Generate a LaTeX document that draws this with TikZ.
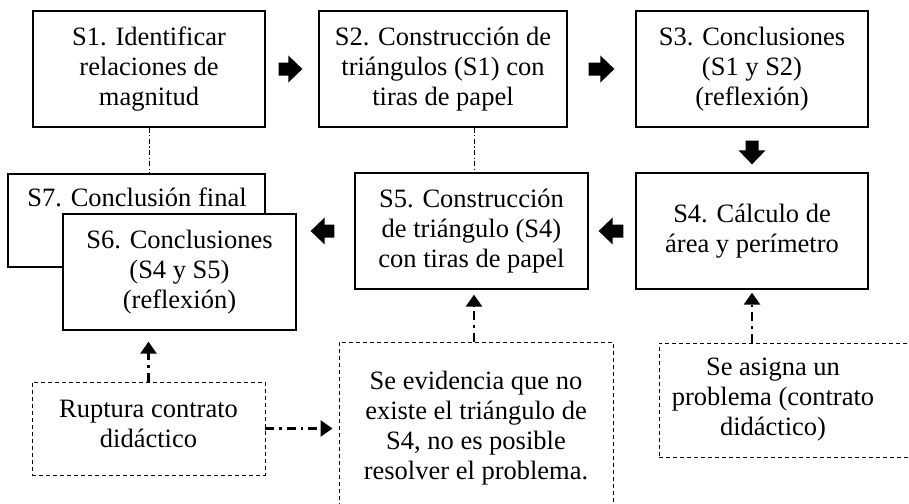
\documentclass[tikz,border=0pt]{standalone}
\usepackage{fontspec}
\setmainfont{Liberation Serif}
\usetikzlibrary{arrows.meta,calc}
\newcommand\blockarr[4]{%
  \coordinate (ba-a) at ($(#1)!#3!(#2)$);
  \coordinate (ba-b) at ($(#2)!#4!(#1)$);
  \coordinate (ba-h) at ($(ba-b)!14pt!(ba-a)$);
  \fill[black] ($(ba-a)!6.5pt!90:(ba-b)$) -- ($(ba-h)!6.5pt!90:(ba-b)$) -- ($(ba-h)!13.5pt!90:(ba-b)$) -- (ba-b)
    -- ($(ba-h)!13.5pt!-90:(ba-b)$) -- ($(ba-h)!6.5pt!-90:(ba-b)$) -- ($(ba-a)!6.5pt!-90:(ba-b)$) -- cycle;}
\begin{document}
\begin{tikzpicture}[x=1pt,y=-1pt,
  every node/.style={font=\fontsize{26.5}{30}\selectfont},
  box/.style={draw, line width=1.3pt, fill=white, inner sep=0pt, align=center},
  dbox/.style={draw, line width=0.9pt, dash pattern=on 4pt off 3pt, inner sep=0pt, align=center},
  txt/.style={inner sep=0pt, align=center},
  thindd/.style={line width=0.8pt, dash pattern=on 5pt off 2.5pt on 1.2pt off 2.5pt},
  ddarrow/.style={line width=2.6pt, dash pattern=on 9pt off 5pt on 2.5pt off 5pt, -{Triangle[length=12pt,width=16pt]}}
]
\clip (0,0) rectangle (909,503);
\fill[white] (0,0) rectangle (909,503);
% main boxes
\node[box, minimum width=232pt, minimum height=116pt] (s1) at (149,69) {S1. Identificar\\relaciones de\\magnitud};
\node[box, minimum width=248pt, minimum height=116pt] (s2) at (443,69) {S2. Construcción de\\triángulos (S1) con\\tiras de papel};
\node[box, minimum width=232pt, minimum height=116pt] (s3) at (752,69) {S3. Conclusiones\\(S1 y S2)\\(reflexión)};
\node[box, minimum width=232pt, minimum height=116pt] (s4) at (752,231) {S4. Cálculo de\\área y perímetro};
\node[box, minimum width=233pt, minimum height=116pt] (s5) at (471.5,231) {S5. Construcción\\de triángulo (S4)\\con tiras de papel};
\node[box, minimum width=257pt, minimum height=93pt] (s7) at (136.5,220.5) {};
\node[txt] (s7t) at (137,197) {S7. Conclusión final};
\node[box, minimum width=233pt, minimum height=116pt] (s6) at (179.5,272) {S6. Conclusiones\\(S4 y S5)\\(reflexión)};
% dashed boxes
\node[dbox, minimum width=233pt, minimum height=93pt] (rup) at (148.5,428.5) {};
\node[txt] (rupt) at (148.5,424) {Ruptura contrato\\didáctico};
\node[dbox, minimum width=274pt, minimum height=180pt] (big) at (476,432) {};
\node[txt] (bigt) at (476,428) {Se evidencia que no\\existe el triángulo de\\S4, no es posible\\resolver el problema.};
\node[dbox, minimum width=256pt, minimum height=114pt] (se) at (787,400) {};
\node[txt] (set) at (773,400) {Se asigna un\\problema (contrato\\didáctico)};
% thin dash-dot links
\draw[thindd] (s1.south) -- (s1.south |- s7.north);
\draw[thindd] ([xshift=31pt]s2.south) -- ([xshift=31pt]s2.south |- s5.north);
% block arrows
\blockarr{s1.east}{s2.west}{13pt}{16pt}
\blockarr{s2.east}{s3.west}{21pt}{21pt}
\blockarr{s3.south}{s4.north}{13pt}{8pt}
\blockarr{s4.west}{s5.east}{12pt}{10pt}
\coordinate (s6in) at (s5.west -| s6.east);
\blockarr{s5.west}{s6in}{20pt}{14pt}
% dash-dot arrows
\draw[ddarrow, shorten >=11pt] (rup.north) -- (rup.north |- s6.south);
\draw[ddarrow, shorten >=6pt] (rup.east) -- (rup.east -| big.west);
\draw[ddarrow, shorten >=5pt] ([xshift=-2pt]big.north) -- ([xshift=-2pt]big.north |- s5.south);
\draw[ddarrow, shorten >=3pt] (s4.south |- se.north) -- (s4.south);
\end{tikzpicture}
\end{document}
